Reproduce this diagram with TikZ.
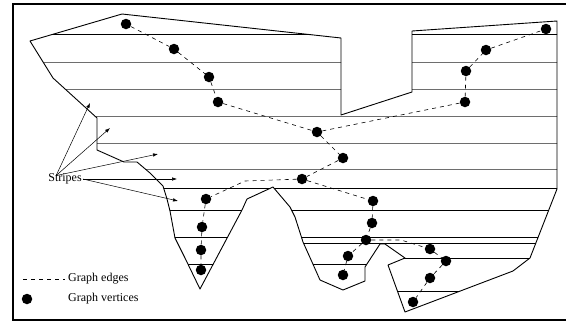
\documentclass[tikz,border=0pt]{standalone}
\usepackage{fontspec}
\setmainfont{Liberation Serif}
\usetikzlibrary{arrows.meta}

% outline of the region that is cut into stripes
\newcommand{\regionpath}{(122,14) -- (341,38) -- (341,115) -- (412,92) -- (412,31)
  -- (557,21) -- (557,189) -- (530,258) -- (513,271) -- (405,312) -- (388,265)
  -- (405,258) -- (385,244) -- (380,244) -- (365,267) -- (365,281) -- (343,290)
  -- (320,280) -- (312,262) -- (303,242) -- (295,217) -- (290,207) -- (273,187)
  -- (247,199) -- (242,210) -- (200,289) -- (185,258) -- (175,238) -- (170,211)
  -- (167,199) -- (163,186) -- (150,173) -- (137,162) -- (124,162) -- (97,150)
  -- (97,118) -- (53,78) -- (30,41) -- cycle}

\definecolor{stripegray}{RGB}{110,110,110}

\begin{document}
\begin{tikzpicture}[x=1pt,y=-1pt,
  every node/.style={font=\fontsize{12}{14}\selectfont},
  vertex/.style={circle,fill=black,inner sep=0pt,minimum size=10.5pt},
  gedge/.style={line width=0.6pt,dash pattern=on 4pt off 4pt},
  stripe/.style={stripegray,line width=1pt},
  darkstripe/.style={black,line width=0.6pt},
  pointer/.style={line width=0.5pt,-{Latex[length=5pt,width=3.5pt]}}]
\useasboundingbox (0,0) rectangle (566,322);
% frame
\draw[line width=2.5pt] (566,4) -- (13,4) -- (13,320) -- (566,320);
% stripes, cut to the region
\begin{scope}
\clip \regionpath;
\foreach \y in {62,89,116,143,169}
  \draw[stripe] (0,\y) -- (566,\y);
\foreach \y in {34,188,210,237,291}
  \draw[darkstripe] (0,\y) -- (566,\y);
\draw[darkstripe] (290,243) -- (566,243);
\draw[darkstripe] (0,264) -- (378,264);
\draw[darkstripe] (380,258) -- (566,258);
\end{scope}
% region outline
\draw[line width=0.9pt,line join=round] \regionpath;
% graph vertices
\node[vertex] (a1) at (126,24) {};
\node[vertex] (a2) at (174,49) {};
\node[vertex] (a3) at (209,77) {};
\node[vertex] (a4) at (218,102) {};
\node[vertex] (c1) at (317,132) {};
\node[vertex] (c2) at (343,158) {};
\node[vertex] (c3) at (302,179) {};
\node[vertex] (r1) at (465,102) {};
\node[vertex] (r2) at (466,71) {};
\node[vertex] (r3) at (486,50) {};
\node[vertex] (r4) at (546,29) {};
\node[vertex] (d1) at (206,199) {};
\node[vertex] (d2) at (202,227) {};
\node[vertex] (d3) at (201,250) {};
\node[vertex] (d4) at (201,270) {};
\node[vertex] (s1) at (373,201) {};
\node[vertex] (s2) at (372,223) {};
\node[vertex] (s3) at (366,240) {};
\node[vertex] (s4) at (348,256) {};
\node[vertex] (s5) at (343,275) {};
\node[vertex] (e1) at (430,249) {};
\node[vertex] (e2) at (446,261) {};
\node[vertex] (e3) at (430,278) {};
\node[vertex] (e4) at (413,302) {};
\coordinate (k1) at (245,181);
\coordinate (k2) at (401,240);
% graph edges
\draw[gedge] (a1) -- (a2) -- (a3) -- (a4) -- (c1) -- (c2) -- (c3);
\draw[gedge] (c1) -- (r1) -- (r2) -- (r3) -- (r4);
\draw[gedge] (c3) -- (k1) -- (d1) -- (d2) -- (d3) -- (d4);
\draw[gedge] (c3) -- (s1) -- (s2) -- (s3) -- (s4) -- (s5);
\draw[gedge] (s3) -- (k2) -- (e1) -- (e2) -- (e3) -- (e4);
% stripe label
\node[inner sep=1pt] (stripes) at (65,179) {Stripes};
\coordinate (t1) at (90,103);
\coordinate (t2) at (110,128);
\coordinate (t3) at (158,154);
\coordinate (t4) at (177,179);
\coordinate (t5) at (178,201);
\draw[pointer] ([xshift=9pt,yshift=-3pt]stripes.north west) -- (t1);
\draw[pointer] ([xshift=9pt,yshift=-3pt]stripes.north west) -- (t2);
\draw[pointer] ([xshift=9pt,yshift=-3pt]stripes.north west) -- (t3);
\draw[pointer] (stripes.east) -- (t4);
\draw[pointer] (stripes.east) -- (t5);
% legend
\coordinate (le1) at (23,279);
\coordinate (le2) at (65,279);
\draw[gedge] (le1) -- (le2);
\node[anchor=west,inner sep=0pt] (ledges) at (68,279) {Graph edges};
\node[vertex] (lv) at (27,299) {};
\node[anchor=west,inner sep=0pt] (lverts) at (68,299) {Graph vertices};
\end{tikzpicture}
\end{document}
